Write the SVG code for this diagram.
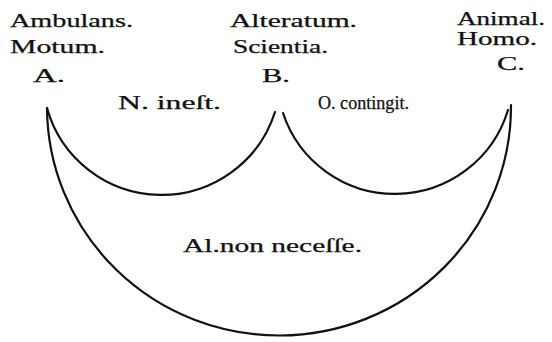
<svg xmlns="http://www.w3.org/2000/svg" width="552" height="342" viewBox="0 0 552 342">
<style>
text{font-family:'Liberation Serif','DejaVu Serif','Times New Roman',serif;font-size:18px;fill:#111;stroke:#111;stroke-width:0.25}
.arc{fill:none;stroke:#111;stroke-width:2.2;stroke-linecap:round}
</style>
<rect width="552" height="342" fill="#fff"/>
<g id="connectors">
<path class="arc" d="M47,108 A232,229 0 0 0 511,105"/>
<path class="arc" d="M47,108 A119,119 0 0 0 275,112"/>
<path class="arc" d="M283,113 A118,118 0 0 0 508,110"/>
</g>
<g id="node-A">
<text x="10" y="27" textLength="123" lengthAdjust="spacingAndGlyphs">Ambulans.</text>
<text x="10" y="53" textLength="95" lengthAdjust="spacingAndGlyphs">Motum.</text>
<text x="33" y="82" textLength="32" lengthAdjust="spacingAndGlyphs">A.</text>
</g>
<g id="node-B">
<text x="230" y="27" textLength="127" lengthAdjust="spacingAndGlyphs">Alteratum.</text>
<text x="233" y="53" textLength="95" lengthAdjust="spacingAndGlyphs">Scientia.</text>
<text x="262" y="82" textLength="28" lengthAdjust="spacingAndGlyphs">B.</text>
</g>
<g id="node-C">
<text x="457" y="25" textLength="88" lengthAdjust="spacingAndGlyphs">Animal.</text>
<text x="457" y="45" textLength="80" lengthAdjust="spacingAndGlyphs">Homo.</text>
<text x="497" y="70" textLength="28" lengthAdjust="spacingAndGlyphs">C.</text>
</g>
<g id="label-N">
<text x="118" y="109" textLength="103" lengthAdjust="spacingAndGlyphs">N. ineſt.</text>
</g>
<g id="label-O">
<text x="318" y="109" textLength="91" lengthAdjust="spacingAndGlyphs">O. contingit.</text>
</g>
<g id="label-Al">
<text x="183" y="252" textLength="179" lengthAdjust="spacingAndGlyphs">Al.non neceſſe.</text>
</g>
</svg>
